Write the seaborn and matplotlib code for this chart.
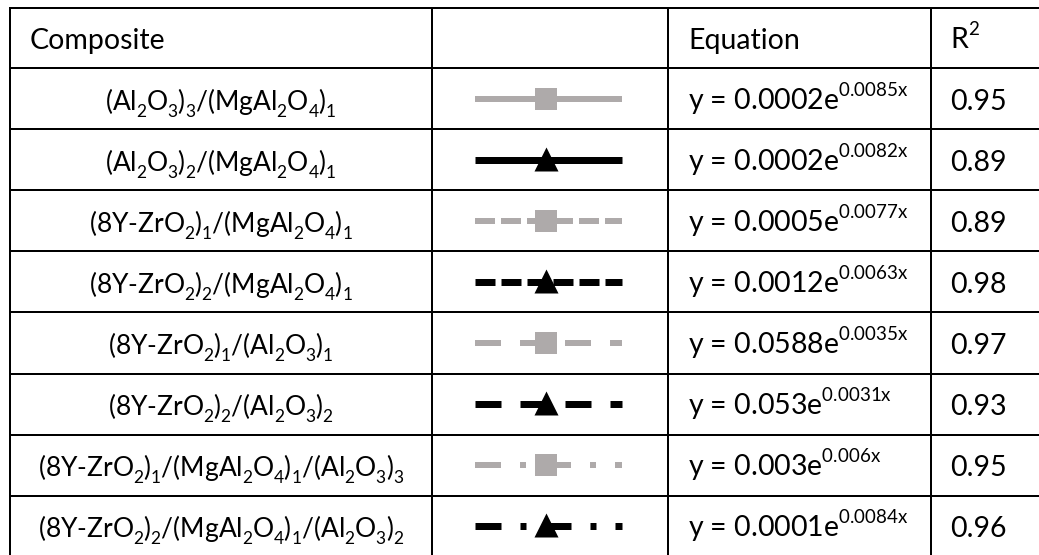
import matplotlib
matplotlib.use("Agg")
import matplotlib.pyplot as plt
import matplotlib._mathtext as _mt
import seaborn as sns
import pandas as pd

# ---------------- data ----------------
header = ["Composite", "", "Equation", "R$^2$"]
composites = [
    "(Al$_2$O$_3$)$_3$/(MgAl$_2$O$_4$)$_1$",
    "(Al$_2$O$_3$)$_2$/(MgAl$_2$O$_4$)$_1$",
    "(8Y-ZrO$_2$)$_1$/(MgAl$_2$O$_4$)$_1$",
    "(8Y-ZrO$_2$)$_2$/(MgAl$_2$O$_4$)$_1$",
    "(8Y-ZrO$_2$)$_1$/(Al$_2$O$_3$)$_1$",
    "(8Y-ZrO$_2$)$_2$/(Al$_2$O$_3$)$_2$",
    "(8Y-ZrO$_2$)$_1$/(MgAl$_2$O$_4$)$_1$/(Al$_2$O$_3$)$_3$",
    "(8Y-ZrO$_2$)$_2$/(MgAl$_2$O$_4$)$_1$/(Al$_2$O$_3$)$_2$",
]
coefficients = ["0.0002", "0.0002", "0.0005", "0.0012", "0.0588", "0.053", "0.003", "0.0001"]
exponents = ["0.0085", "0.0082", "0.0077", "0.0063", "0.0035", "0.0031", "0.006", "0.0084"]
r_squared = ["0.95", "0.89", "0.89", "0.98", "0.97", "0.93", "0.95", "0.96"]

# ---------------- styles ----------------
GRAY = "#AEAAAA"
BLACK = "#000000"
PT = 0.72  # points per pixel at dpi 100
row_colors = [GRAY, BLACK] * 4
row_markers = ["s", "^"] * 4
solid = ()
dashed = (20 * PT, 6 * PT)
longdash = (26 * PT, 19 * PT)
longdashdot = (26 * PT, 19 * PT, 6 * PT, 19 * PT)
row_dashes = [solid, solid, dashed, dashed, longdash, longdash, longdashdot, longdashdot]
row_lw = [6 * PT, 7 * PT] * 4

# ---------------- layout (pixels) ----------------
W, H = 1039, 555
col_x = [10, 432, 668, 931]
top = 8
header_h = 60
row_h = 61.1
row_lines = [top, top + header_h] + [top + header_h + row_h * (i + 1) for i in range(len(composites))]
grid_lw = 2 * PT
FONT = "Lato"
fs_main = 20.5
fs_comp = 19.0

# script size / offsets closer to word-processor sub/superscripts
try:
    _mt.SHRINK_FACTOR = 0.66
    _mt.FontConstantsBase.sub1 = 0.5
    _mt.FontConstantsBase.sup1 = 0.9
    _mt.FontConstantsBase.script_space = 0.0
except Exception:
    pass

plt.rcParams["font.family"] = [FONT, "DejaVu Sans"]
plt.rcParams["mathtext.fontset"] = "custom"
plt.rcParams["mathtext.rm"] = FONT
plt.rcParams["mathtext.it"] = FONT
plt.rcParams["mathtext.bf"] = FONT
plt.rcParams["mathtext.sf"] = FONT
plt.rcParams["mathtext.default"] = "regular"
plt.rcParams["lines.scale_dashes"] = False

fig = plt.figure(figsize=(W / 100, H / 100), dpi=100)
ax = fig.add_axes([0, 0, 1, 1])
ax.set_xlim(0, W)
ax.set_ylim(H, 0)
ax.axis("off")

# grid lines
for y in row_lines:
    if y < H:
        ax.plot([col_x[0] - 1, W], [y, y], color="black", lw=grid_lw, solid_capstyle="butt")
for x in col_x:
    ax.plot([x, x], [top - 1, H], color="black", lw=grid_lw, solid_capstyle="butt")

# header
hc = top + header_h / 2
base_off = 11.0
ax.text(30, hc + base_off, header[0], fontsize=fs_main, ha="left", va="baseline")
ax.text(col_x[2] + 20, hc + base_off, header[2], fontsize=fs_main, ha="left", va="baseline")
ax.text(col_x[3] + 19, hc + base_off, header[3], fontsize=fs_main, ha="left", va="baseline")

# rows
c1 = (col_x[0] + col_x[1]) / 2
lx0, lx1 = col_x[1] + 43, col_x[2] - 46
lmid = lx0 + 71
for i, name in enumerate(composites):
    yc = top + header_h + row_h * i + row_h / 2
    ax.text(c1, yc + base_off, name, fontsize=fs_comp, ha="center", va="baseline")
    eq = f"y = {coefficients[i]}e$^{{{exponents[i]}x}}$"
    ax.text(col_x[2] + 20, yc + base_off, eq, fontsize=fs_main, ha="left", va="baseline")
    ax.text(col_x[3] + 19, yc + base_off, r_squared[i], fontsize=fs_main, ha="left", va="baseline")

    df = pd.DataFrame({"x": [lx0, lx1], "y": [yc, yc]})
    sns.lineplot(data=df, x="x", y="y", ax=ax, color=row_colors[i], lw=row_lw[i],
                 estimator=None, sort=False, legend=False)
    line = ax.lines[-1]
    line.set_solid_capstyle("butt")
    line.set_dash_capstyle("butt")
    if row_dashes[i]:
        line.set_dashes(row_dashes[i])
    dm = pd.DataFrame({"x": [lmid], "y": [yc - (1 if row_markers[i] == "^" else 0)]})
    sns.scatterplot(data=dm, x="x", y="y", ax=ax, marker=row_markers[i], color=row_colors[i],
                    s=(22 * PT) ** 2 if row_markers[i] == "s" else (24 * PT) ** 2,
                    linewidth=0, legend=False, zorder=3)

ax.set_xlim(0, W)
ax.set_ylim(H, 0)
ax.axis("off")
fig.savefig("out.png", dpi=100)
